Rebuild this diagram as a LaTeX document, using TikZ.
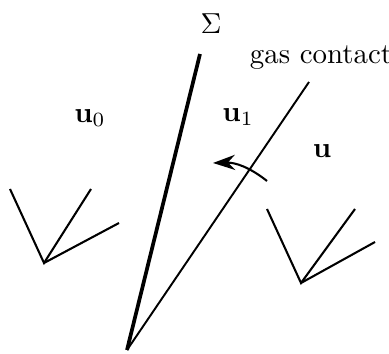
\documentclass[tikz,border=0pt]{standalone}
\usetikzlibrary{arrows.meta}
\usepackage{amsmath}

\begin{document}
\begin{tikzpicture}[
  x=0.3636pt, y=-0.3636pt,
  lbl/.style={inner sep=1pt, scale=1.05},
  shock/.style={line width=1.35pt},
  contact/.style={line width=0.7pt},
  axes/.style={line width=0.75pt},
  arr/.style={-{Stealth[length=8pt, width=5.5pt]}, line width=0.75pt}
]
\useasboundingbox (0,0) rectangle (389,354);

\coordinate (apex) at (127, 350);
\coordinate (sigtop) at (200, 54);
\coordinate (gctop) at (309, 82);

\node[lbl] (sig) at (211, 24) {$\Sigma$};
\node[lbl] (gc) at (321, 58) {gas contact};
\node[lbl] (u0) at (90, 118) {$\mathbf{u}_0$};
\node[lbl] (u1) at (238, 117) {$\mathbf{u}_1$};
\node[lbl] (u) at (322, 151) {$\mathbf{u}$};

\draw[shock] (apex) -- (sigtop);
\draw[contact] (apex) -- (gctop);

\coordinate (rotA) at (267, 181);
\coordinate (rotB) at (213, 163);
\draw[arr] (rotA) to[bend right=20] (rotB);

% left frame
\coordinate (o0) at (44, 263);
\draw[axes] (10, 189) -- (o0) -- (91, 189);
\draw[axes] (o0) -- (119, 223);

% right frame
\coordinate (o1) at (301, 283);
\draw[axes] (267, 209) -- (o1) -- (355, 209);
\draw[axes] (o1) -- (375, 242);

\end{tikzpicture}
\end{document}
